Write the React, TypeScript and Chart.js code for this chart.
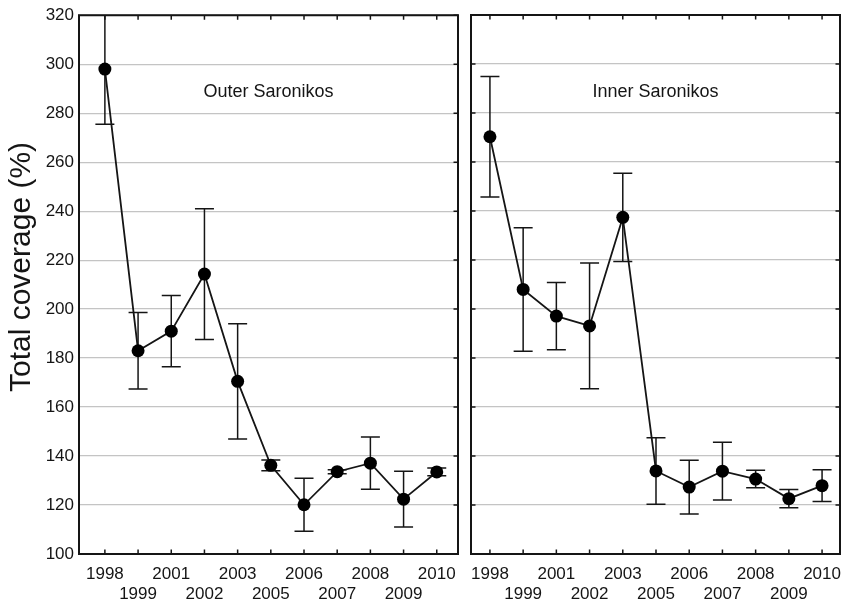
import React, { useEffect, useRef } from "react";
import { Chart, registerables } from "chart.js";

Chart.register(...registerables);

const years = ["1998", "1999", "2001", "2002", "2003", "2005", "2006", "2007", "2008", "2009", "2010"];
const outerMean = [298, 183, 191, 214.3, 170.5, 136.2, 120.1, 133.6, 137.1, 122.4, 133.5];
const outerErr = [22.5, 15.6, 14.5, 26.7, 23.5, 2.2, 10.8, 0.8, 10.7, 11.4, 1.6];
const innerMean = [270.3, 208, 197.1, 193.1, 237.4, 133.9, 127.3, 133.8, 130.6, 122.6, 127.9];
const innerErr = [24.6, 25.2, 13.7, 25.7, 18, 13.6, 11, 11.8, 3.6, 3.7, 6.5];
const yMin = 100;
const yMax = 320;
const yStep = 20;
const panelTitles = ["Outer Saronikos", "Inner Saronikos"];
const yTitle = "Total coverage (%)";

const FONT = "'Liberation Sans', Arial, sans-serif";
const DARK = "#151515";

function makeErrorPlugin(means: number[], errs: number[]) {
  return {
    id: "errorBars",
    beforeDatasetsDraw(chart: any) {
      const { ctx, chartArea, scales } = chart;
      const x = scales.x;
      const y = scales.y;
      ctx.save();
      ctx.beginPath();
      ctx.rect(chartArea.left, chartArea.top, chartArea.right - chartArea.left, chartArea.bottom - chartArea.top);
      ctx.clip();
      ctx.strokeStyle = DARK;
      ctx.lineWidth = 1.5;
      means.forEach((m, i) => {
        const px = x.getPixelForValue(i);
        const hi = y.getPixelForValue(m + errs[i]);
        const lo = y.getPixelForValue(m - errs[i]);
        ctx.beginPath();
        ctx.moveTo(px, hi);
        ctx.lineTo(px, lo);
        ctx.moveTo(px - 9.5, hi);
        ctx.lineTo(px + 9.5, hi);
        ctx.moveTo(px - 9.5, lo);
        ctx.lineTo(px + 9.5, lo);
        ctx.stroke();
      });
      ctx.restore();
    },
  };
}

function makeFramePlugin(title: string, drawYTitle: boolean) {
  return {
    id: "frame",
    afterDraw(chart: any) {
      const { ctx, chartArea, scales } = chart;
      const { left, right, top, bottom } = chartArea;
      ctx.save();
      ctx.strokeStyle = DARK;
      ctx.lineWidth = 1.5;
      ctx.beginPath();
      scales.x.ticks.forEach((t: any) => {
        const px = scales.x.getPixelForValue(t.value);
        ctx.moveTo(px, top);
        ctx.lineTo(px, top + 4.5);
        ctx.moveTo(px, bottom);
        ctx.lineTo(px, bottom - 4.5);
      });
      scales.y.ticks.forEach((t: any) => {
        const py = scales.y.getPixelForValue(t.value);
        if (!drawYTitle) {
          ctx.moveTo(left, py);
          ctx.lineTo(left + 4.5, py);
        }
        ctx.moveTo(right, py);
        ctx.lineTo(right - 4.5, py);
      });
      ctx.stroke();
      ctx.lineWidth = 2;
      ctx.strokeRect(left, top, right - left, bottom - top);

      ctx.fillStyle = DARK;
      ctx.font = `18px ${FONT}`;
      ctx.textAlign = "center";
      ctx.textBaseline = "middle";
      ctx.fillText(title, (left + right) / 2, top + 77);

      if (drawYTitle) {
        ctx.translate(22, 267);
        ctx.rotate(-Math.PI / 2);
        ctx.font = `30px ${FONT}`;
        ctx.fillText(yTitle, 0, 0);
      }
      ctx.restore();
    },
  };
}

function buildChart(
  canvas: HTMLCanvasElement,
  means: number[],
  errs: number[],
  title: string,
  showY: boolean,
  xMin: number,
  xMax: number,
  yAxisWidth: number,
  padRight: number
) {
  return new Chart(canvas, {
    type: "line",
    data: {
      datasets: [
        {
          data: means.map((v, i) => ({ x: i, y: v })),
          borderColor: DARK,
          borderWidth: 1.8,
          pointRadius: 6.5,
          pointBackgroundColor: "#000",
          pointBorderColor: "#000",
          pointBorderWidth: 0,
          tension: 0,
        },
      ],
    },
    options: {
      responsive: false,
      maintainAspectRatio: false,
      animation: false,
      devicePixelRatio: 1,
      layout: { autoPadding: false, padding: { left: 0, right: padRight, top: 15, bottom: 0 } },
      plugins: {
        legend: { display: false },
        tooltip: { enabled: false },
      },
      scales: {
        x: {
          type: "linear",
          min: xMin,
          max: xMax,
          grid: { display: false },
          border: { display: false },
          ticks: {
            stepSize: 1,
            includeBounds: false,
            padding: 3,
            color: DARK,
            font: { size: 17, family: FONT, lineHeight: 1.15 },
            maxRotation: 0,
            autoSkip: false,
            callback: (value: any) => {
              const i = Math.round(Number(value));
              const label = years[i] ?? "";
              return i % 2 === 0 ? [label, ""] : ["", label];
            },
          },
          afterBuildTicks: (scale: any) => {
            scale.ticks = years.map((_, i) => ({ value: i }));
          },
          afterFit: (scale: any) => {
            scale.height = 50;
            scale.paddingLeft = 0;
            scale.paddingRight = 0;
          },
        },
        y: {
          type: "linear",
          min: yMin,
          max: yMax,
          grid: { color: "#c4c4c4", lineWidth: 1.2, drawTicks: false },
          border: { display: false },
          ticks: {
            display: showY,
            stepSize: yStep,
            padding: 5,
            color: DARK,
            font: { size: 17, family: FONT },
          },
          afterFit: (scale: any) => {
            scale.width = yAxisWidth;
          },
        },
      },
    } as any,
    plugins: [makeErrorPlugin(means, errs), makeFramePlugin(title, showY)],
  });
}

export default function App() {
  const leftRef = useRef<HTMLCanvasElement>(null);
  const rightRef = useRef<HTMLCanvasElement>(null);

  useEffect(() => {
    const c1 = buildChart(leftRef.current!, outerMean, outerErr, panelTitles[0], true, -0.78, 10.64, 79, 6);
    const c2 = buildChart(rightRef.current!, innerMean, innerErr, panelTitles[1], false, -0.57, 10.54, 7, 3);
    return () => {
      c1.destroy();
      c2.destroy();
    };
  }, []);

  return (
    <div style={{ position: "absolute", left: 0, top: 0, width: 843, height: 604, background: "#fff" }}>
      <canvas
        ref={leftRef}
        width={464}
        height={604}
        style={{ position: "absolute", left: 0, top: 0, width: 464, height: 604, display: "block" }}
      />
      <canvas
        ref={rightRef}
        width={379}
        height={604}
        style={{ position: "absolute", left: 464, top: 0, width: 379, height: 604, display: "block" }}
      />
    </div>
  );
}
